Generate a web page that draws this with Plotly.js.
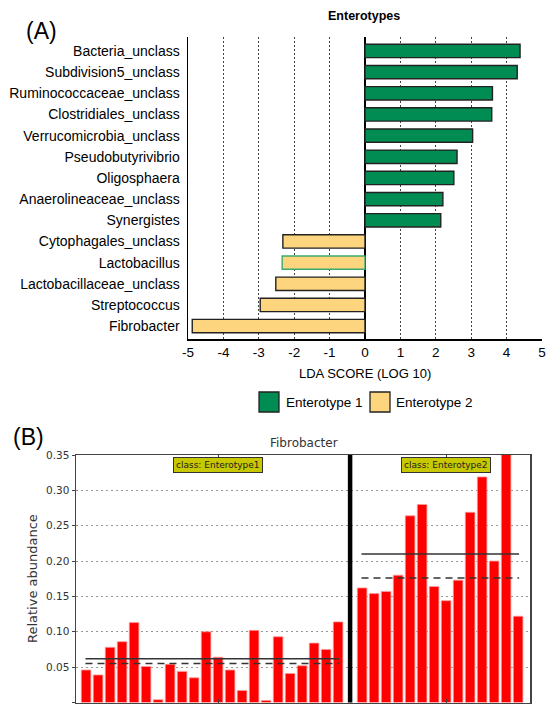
<!DOCTYPE html>
<html>
<head>
<meta charset="utf-8">
<script src="https://cdn.plot.ly/plotly-3.0.1.min.js"></script>
<style>
  html, body { margin: 0; padding: 0; background: #fff; }
  #chart { width: 548px; height: 708px; }
</style>
</head>
<body>
<div id="chart"></div>
<script>
// ---------- Panel A data (LEfSe LDA scores) ----------
const taxa = ['Bacteria_unclass', 'Subdivision5_unclass', 'Ruminococcaceae_unclass', 'Clostridiales_unclass',
  'Verrucomicrobia_unclass', 'Pseudobutyrivibrio', 'Oligosphaera', 'Anaerolineaceae_unclass', 'Synergistes',
  'Cytophagales_unclass', 'Lactobacillus', 'Lactobacillaceae_unclass', 'Streptococcus', 'Fibrobacter'];
const ldaScores = [4.38, 4.30, 3.60, 3.58, 3.04, 2.60, 2.51, 2.20, 2.14, -2.32, -2.34, -2.52, -2.96, -4.88];
const taxaGroup = ['Enterotype 1', 'Enterotype 1', 'Enterotype 1', 'Enterotype 1', 'Enterotype 1', 'Enterotype 1',
  'Enterotype 1', 'Enterotype 1', 'Enterotype 1', 'Enterotype 2', 'Enterotype 2', 'Enterotype 2', 'Enterotype 2', 'Enterotype 2'];
const groupNames = ['Enterotype 1', 'Enterotype 2'];
const ldaTicks = [-5, -4, -3, -2, -1, 0, 1, 2, 3, 4, 5];

// ---------- Panel B data (Fibrobacter relative abundance per sample) ----------
const enterotype1Abundance = [0.046, 0.039, 0.078, 0.086, 0.113, 0.051, 0.004, 0.054, 0.044, 0.035, 0.100,
  0.064, 0.046, 0.017, 0.102, 0.003, 0.093, 0.041, 0.052, 0.084, 0.075, 0.114];
const enterotype2Abundance = [0.162, 0.154, 0.157, 0.180, 0.264, 0.280, 0.164, 0.144, 0.173, 0.269, 0.319,
  0.200, 0.360, 0.122];
const classLabels = ['class: Enterotype1', 'class: Enterotype2'];
const classMean = [0.062, 0.210];
const classMedian = [0.055, 0.176];
const abundanceTicks = [0.00, 0.05, 0.10, 0.15, 0.20, 0.25, 0.30, 0.35];

// ---------- styles ----------
const W = 548, H = 708;
const GREEN = '#008C52', YELLOW = '#FDD57F';
const groupColors = {'Enterotype 1': GREEN, 'Enterotype 2': YELLOW};
const ARIAL = 'Liberation Sans, Arial, sans-serif';
const DEJAVU = 'DejaVu Sans, sans-serif';
const px = v => v / W;
const py = v => 1 - v / H;

// ---------- Panel A traces ----------
const traces = [];
groupNames.forEach(g => {
  const ys = [], xs = [], edge = [];
  taxa.forEach((t, i) => {
    if (taxaGroup[i] === g) {
      ys.push(t); xs.push(ldaScores[i]);
      edge.push(t === 'Lactobacillus' ? '#3DAA6E' : '#222');
    }
  });
  traces.push({
    type: 'bar', orientation: 'h', x: xs, y: ys, name: g,
    xaxis: 'x', yaxis: 'y', width: 0.63,
    marker: {color: groupColors[g], line: {color: edge, width: 1.4}},
    showlegend: false, hoverinfo: 'x+y'
  });
});

// ---------- Panel B traces ----------
const e1x = enterotype1Abundance.map((_, i) => i);
const sepPos = enterotype1Abundance.length;           // separator slot
const e2x = enterotype2Abundance.map((_, i) => sepPos + 1 + i);
const groupX = [e1x, e2x];
const groupY = [enterotype1Abundance, enterotype2Abundance];

groupX.forEach((xs, k) => {
  traces.push({
    type: 'bar', x: xs, y: groupY[k], xaxis: 'x2', yaxis: 'y2', width: 0.8,
    marker: {color: '#FF0000', line: {color: '#FF9A9A', width: 0.8}},
    showlegend: false, name: classLabels[k]
  });
  const x0 = xs[0] - 0.05, x1 = xs[xs.length - 1] + 0.08;
  traces.push({
    type: 'scatter', mode: 'lines', x: [x0, x1], y: [classMean[k], classMean[k]],
    xaxis: 'x2', yaxis: 'y2', line: {color: '#333', width: 1.5}, showlegend: false, hoverinfo: 'y'
  });
  traces.push({
    type: 'scatter', mode: 'lines', x: [x0, x1], y: [classMedian[k], classMedian[k]],
    xaxis: 'x2', yaxis: 'y2', line: {color: '#333', width: 1.5, dash: '7px,5px'}, showlegend: false, hoverinfo: 'y'
  });
});

const groupCenters = groupX.map(xs => (xs[0] + xs[xs.length - 1]) / 2 + 0.5);

// ---------- layout ----------
const annotations = [
  {text: '(A)', x: px(41), y: py(31), xref: 'paper', yref: 'paper', showarrow: false,
   xanchor: 'center', yanchor: 'middle', font: {family: ARIAL, size: 23, color: '#000'}},
  {text: '<b>Enterotypes</b>', x: px(364), y: py(16), xref: 'paper', yref: 'paper', showarrow: false,
   xanchor: 'center', yanchor: 'middle', font: {family: ARIAL, size: 12.5, color: '#000'}},
  {text: 'LDA SCORE (LOG 10)', x: px(365), y: py(373), xref: 'paper', yref: 'paper', showarrow: false,
   xanchor: 'center', yanchor: 'middle', font: {family: ARIAL, size: 13, color: '#000'}},
  {text: groupNames[0], x: px(284), y: py(402), xref: 'paper', yref: 'paper', showarrow: false,
   xanchor: 'left', yanchor: 'middle', font: {family: ARIAL, size: 13.5, color: '#000'}},
  {text: groupNames[1], x: px(394), y: py(402), xref: 'paper', yref: 'paper', showarrow: false,
   xanchor: 'left', yanchor: 'middle', font: {family: ARIAL, size: 13.5, color: '#000'}},
  {text: '(B)', x: px(28), y: py(437), xref: 'paper', yref: 'paper', showarrow: false,
   xanchor: 'center', yanchor: 'middle', font: {family: ARIAL, size: 23, color: '#000'}},
  {text: 'Fibrobacter', x: px(303.5), y: py(443), xref: 'paper', yref: 'paper', showarrow: false,
   xanchor: 'center', yanchor: 'middle', font: {family: DEJAVU, size: 12, color: '#333'}},
  {text: 'Relative abundance', x: px(32), y: py(579), xref: 'paper', yref: 'paper', showarrow: false,
   textangle: -90, xanchor: 'center', yanchor: 'middle', font: {family: DEJAVU, size: 13, color: '#333'}}
];
classLabels.forEach((lab, k) => {
  annotations.push({
    text: lab, x: groupCenters[k], y: py(464.5), xref: 'x2', yref: 'paper', showarrow: false,
    xanchor: 'center', yanchor: 'middle', bgcolor: '#C8C800', bordercolor: '#333', borderwidth: 1, borderpad: 2,
    font: {family: DEJAVU, size: 9, color: '#222'}
  });
});

const shapes = [
  // legend swatches
  {type: 'rect', xref: 'paper', yref: 'paper', x0: px(259), x1: px(279), y0: py(412), y1: py(392),
   fillcolor: GREEN, line: {color: '#222', width: 1.3}},
  {type: 'rect', xref: 'paper', yref: 'paper', x0: px(370), x1: px(390), y0: py(412), y1: py(392),
   fillcolor: YELLOW, line: {color: '#222', width: 1.3}},
  // class separator in panel B
  {type: 'line', xref: 'x2', yref: 'y2 domain', x0: sepPos, x1: sepPos, y0: 0, y1: 1,
   line: {color: '#000', width: 4.5}}
];

const layout = {
  width: W, height: H,
  margin: {l: 0, r: 0, t: 0, b: 0},
  paper_bgcolor: '#fff', plot_bgcolor: 'rgba(0,0,0,0)',
  barmode: 'overlay', bargap: 0,
  showlegend: false,
  xaxis: {
    domain: [px(188), px(542)], anchor: 'y', range: [-5, 5],
    tickvals: ldaTicks, ticktext: ldaTicks.map(String), ticks: '',
    showgrid: true, gridcolor: '#444', gridwidth: 1, griddash: '2px,2px',
    zeroline: true, zerolinecolor: '#000', zerolinewidth: 2.5,
    showline: true, linecolor: '#000', linewidth: 1.5,
    tickfont: {family: ARIAL, size: 13.5, color: '#000'}, fixedrange: true
  },
  yaxis: {
    domain: [py(339), py(37)], anchor: 'x', type: 'category',
    categoryorder: 'array', categoryarray: taxa, range: [13.61, -0.66],
    showgrid: false, zeroline: false, showline: true, linecolor: '#000', linewidth: 1.5,
    ticks: 'outside', ticklen: 4, tickcolor: 'rgba(0,0,0,0)',
    tickfont: {family: ARIAL, size: 14, color: '#000'}, fixedrange: true
  },
  xaxis2: {
    domain: [px(76), px(530)], anchor: 'y2', range: [-0.84, 36.99],
    tickvals: groupCenters, ticktext: ['', ''], ticks: 'inside', ticklen: 4, tickcolor: '#444',
    showgrid: false, zeroline: false, showline: true, mirror: 'ticks', linecolor: '#444', linewidth: 1.5,
    fixedrange: true
  },
  yaxis2: {
    domain: [py(702.5), py(455)], anchor: 'x2', range: [0, 0.35],
    tickvals: abundanceTicks, ticktext: abundanceTicks.map(v => v.toFixed(2)),
    ticks: 'outside', ticklen: 3, tickcolor: '#444',
    showgrid: true, gridcolor: '#999', gridwidth: 1, griddash: '2px,3px',
    zeroline: false, showline: true, mirror: true, linecolor: '#444', linewidth: 1.5,
    tickfont: {family: DEJAVU, size: 10.5, color: '#333'}, fixedrange: true
  },
  annotations: annotations,
  shapes: shapes
};

Plotly.newPlot('chart', traces, layout, {displayModeBar: false, staticPlot: true});
</script>
</body>
</html>
